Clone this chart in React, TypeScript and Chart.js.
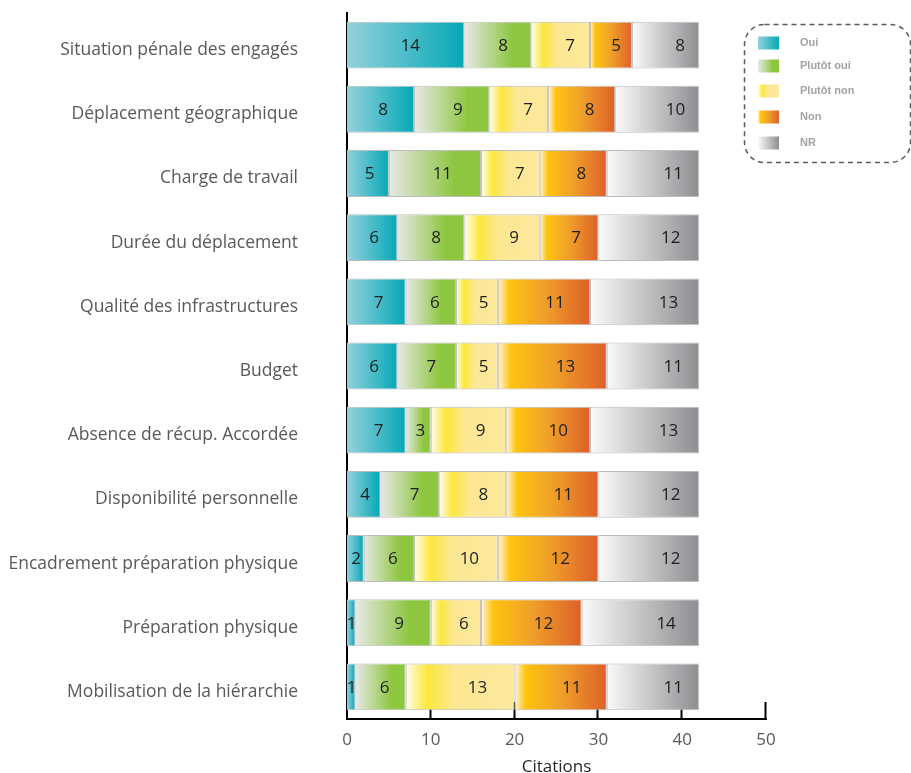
import React, { useEffect, useRef } from "react";
import { Chart, registerables } from "chart.js";

Chart.register(...registerables);

const categories = [
  "Situation pénale des engagés",
  "Déplacement géographique",
  "Charge de travail",
  "Durée du déplacement",
  "Qualité des infrastructures",
  "Budget",
  "Absence de récup. Accordée",
  "Disponibilité personnelle",
  "Encadrement préparation physique",
  "Préparation physique",
  "Mobilisation de la hiérarchie",
];

const oui = [14, 8, 5, 6, 7, 6, 7, 4, 2, 1, 1];
const plutotOui = [8, 9, 11, 8, 6, 7, 3, 7, 6, 9, 6];
const plutotNon = [7, 7, 7, 9, 5, 5, 9, 8, 10, 6, 13];
const non = [5, 8, 8, 7, 11, 13, 10, 11, 12, 12, 11];
const nr = [8, 10, 11, 12, 13, 11, 13, 12, 12, 14, 11];

const xTicks = [0, 10, 20, 30, 40, 50];

type Stop = [number, string];

const seriesNames = ["Oui", "Plutôt oui", "Plutôt non", "Non", "NR"];
const seriesValues = [oui, plutotOui, plutotNon, non, nr];
const seriesStops: Stop[][] = [
  [[0, "#93d1dc"], [1, "#05a8b6"]],
  [[0, "#e8e8e8"], [0.72, "#8dc63f"], [1, "#8dc63f"]],
  [[0, "#fffdf0"], [0.2, "#fbe73c"], [0.45, "#fde793"], [1, "#fde99d"]],
  [[0, "#fff4dc"], [0.12, "#fec40f"], [0.5, "#f0a029"], [1, "#dd6029"]],
  [[0, "#fafafa"], [1, "#8e8e92"]],
];
// horizontal position of each value label inside its segment (fraction of width from centre)
const labelShift = [0.04, 0.08, 0.16, 0.12, 0.22];

const labelFont = "'Open Sans', 'DejaVu Sans', sans-serif";

function makeGradient(c: CanvasRenderingContext2D, x0: number, x1: number, stops: Stop[]) {
  const g = c.createLinearGradient(x0, 0, x1 <= x0 ? x0 + 1 : x1, 0);
  stops.forEach(([o, col]) => g.addColorStop(o, col));
  return g;
}

const valueLabels = {
  id: "valueLabels",
  afterDatasetsDraw(chart: any) {
    const c: CanvasRenderingContext2D = chart.ctx;
    c.save();
    c.font = `17px ${labelFont}`;
    c.fillStyle = "#1e1e1e";
    c.textAlign = "center";
    c.textBaseline = "middle";
    chart.data.datasets.forEach((ds: any, di: number) => {
      const meta = chart.getDatasetMeta(di);
      meta.data.forEach((el: any, i: number) => {
        const v = ds.data[i];
        if (!v) return;
        const w = el.x - el.base;
        const cx = (el.x + el.base) / 2 + labelShift[di] * w;
        c.fillText(String(v), cx, el.y + 1);
      });
    });
    c.restore();
  },
};

const innerTicks = {
  id: "innerTicks",
  beforeDatasetsDraw(chart: any) {
    const c: CanvasRenderingContext2D = chart.ctx;
    const xs = chart.scales.x;
    const bottom = chart.chartArea.bottom;
    c.save();
    c.strokeStyle = "#000";
    c.lineWidth = 2;
    xTicks.forEach((t) => {
      if (t === 0) return;
      const px = Math.round(xs.getPixelForValue(t)) - 0.5;
      c.beginPath();
      c.moveTo(px, bottom);
      c.lineTo(px, bottom - 17);
      c.stroke();
    });
    c.restore();
  },
};

const boxLegend = {
  id: "boxLegend",
  afterDraw(chart: any) {
    const c: CanvasRenderingContext2D = chart.ctx;
    c.save();
    // dashed rounded frame
    const bx = 744.5, by = 24.5, bw = 166, bh = 138, r = 20;
    c.beginPath();
    c.moveTo(bx + r, by);
    c.lineTo(bx + bw - r, by);
    c.arcTo(bx + bw, by, bx + bw, by + r, r);
    c.lineTo(bx + bw, by + bh - r);
    c.arcTo(bx + bw, by + bh, bx + bw - r, by + bh, r);
    c.lineTo(bx + r, by + bh);
    c.arcTo(bx, by + bh, bx, by + bh - r, r);
    c.lineTo(bx, by + r);
    c.arcTo(bx, by, bx + r, by, r);
    c.closePath();
    c.setLineDash([5, 4]);
    c.lineWidth = 1.5;
    c.strokeStyle = "#5a5a5a";
    c.stroke();
    c.setLineDash([]);

    const rows = [43, 66, 91, 117, 143];
    c.font = "bold 11px 'Liberation Sans', Arial, sans-serif";
    c.textBaseline = "middle";
    c.textAlign = "left";
    seriesNames.forEach((name, i) => {
      const y = rows[i];
      const sx = 758, sw = 21, sh = 13;
      c.fillStyle = makeGradient(c, sx, sx + sw, seriesStops[i]);
      c.fillRect(sx, y - sh / 2, sw, sh);
      c.fillStyle = "#a3a3a3";
      c.fillText(name, 800, y);
    });
    c.restore();
  },
};

export default function App() {
  const ref = useRef<HTMLCanvasElement | null>(null);

  useEffect(() => {
    document.body.style.margin = "0";
    const canvas = ref.current;
    if (!canvas) return;

    const datasets = seriesNames.map((name, di) => ({
      label: name,
      data: seriesValues[di],
      backgroundColor: (ctx: any) => {
        const chart = ctx.chart;
        const xs = chart.scales && chart.scales.x;
        const stops = seriesStops[di];
        const fallback = stops[stops.length - 1][1];
        if (ctx.type !== "data" || !xs) return fallback;
        const i = ctx.dataIndex;
        let start = 0;
        for (let k = 0; k < di; k++) start += seriesValues[k][i];
        const end = start + seriesValues[di][i];
        const x0 = xs.getPixelForValue(start);
        const x1 = xs.getPixelForValue(end);
        if (!Number.isFinite(x0) || !Number.isFinite(x1)) return fallback;
        return makeGradient(chart.ctx, x0, x1, stops);
      },
      borderColor: "#bdbdbd",
      borderWidth: 1,
      borderSkipped: false as const,
      barPercentage: 0.73,
      categoryPercentage: 1,
    }));

    const chart = new Chart(canvas, {
      type: "bar",
      data: { labels: categories, datasets },
      plugins: [innerTicks, valueLabels, boxLegend],
      options: {
        indexAxis: "y",
        responsive: false,
        animation: false,
        layout: { padding: { top: 13, right: 145, left: 0, bottom: 0 } },
        plugins: {
          legend: { display: false },
          tooltip: { enabled: false },
        },
        scales: {
          x: {
            stacked: true,
            min: 0,
            max: 50,
            afterFit: (s: any) => {
              s.height = 54;
            },
            afterBuildTicks: (s: any) => {
              s.ticks = xTicks.map((v) => ({ value: v }));
            },
            grid: { display: false, drawTicks: false },
            border: { display: true, color: "#000", width: 2 },
            ticks: {
              padding: 11,
              color: "#595959",
              font: { size: 17, family: labelFont },
            },
            title: {
              display: true,
              text: "Citations",
              color: "#262626",
              font: { size: 17, family: labelFont },
              padding: { top: 0, bottom: -4 },
            },
          },
          y: {
            stacked: true,
            afterFit: (s: any) => {
              s.width = 347;
              s.paddingTop = 0;
              s.paddingBottom = 0;
            },
            grid: { display: false, drawTicks: false },
            border: { display: true, color: "#000", width: 2 },
            ticks: {
              padding: 49,
              labelOffset: 5,
              color: "#595959",
              font: { size: 17.5, family: labelFont },
            },
          },
        },
      },
    });
    chart.update();
    return () => chart.destroy();
  }, []);

  return <canvas ref={ref} width={911} height={773} style={{ display: "block" }} />;
}
